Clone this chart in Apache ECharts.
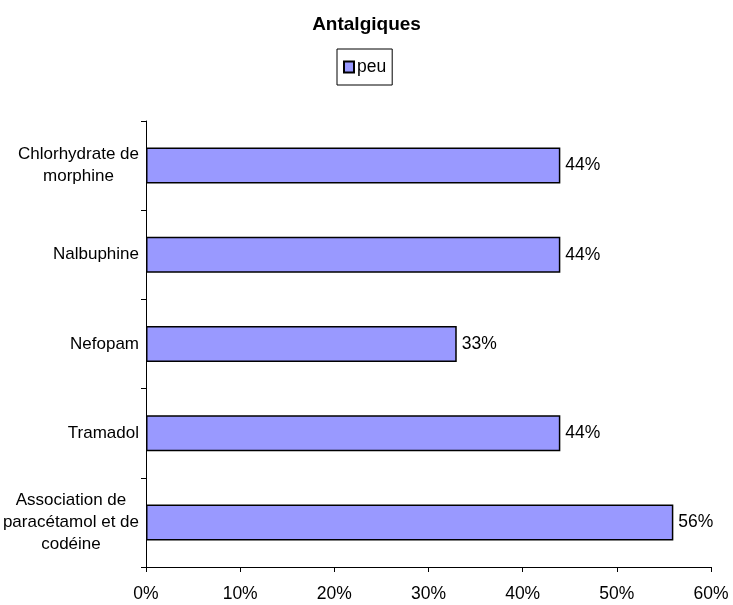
<!DOCTYPE html>
<html>
<head>
<meta charset="utf-8">
<script src="https://cdn.jsdelivr.net/npm/echarts@6/dist/echarts.min.js"></script>
<style>
  html, body { margin: 0; padding: 0; background: #fff; }
  #chart { width: 733px; height: 605px; }
</style>
</head>
<body>
<div id="chart"></div>
<script>
// bottom to top, as the axis draws them
const categories = [
  'Association de\nparacétamol et de\ncodéine',
  'Tramadol',
  'Nefopam',
  'Nalbuphine',
  'Chlorhydrate de\nmorphine'
];
const peuValues = [56, 44, 33, 44, 44];
const seriesName = 'peu';
const chartTitle = 'Antalgiques';

const chart = echarts.init(document.getElementById('chart'));
const font = 'Liberation Sans, Arial, sans-serif';

chart.setOption({
  animation: false,
  title: {
    text: chartTitle,
    left: 'center',
    top: 10,
    textStyle: { fontFamily: font, fontSize: 19, fontWeight: 'bold', color: '#000' }
  },
  legend: {
    data: [seriesName],
    left: 337,
    top: 49,
    padding: [9, 6, 9, 6],
    borderColor: '#000',
    borderWidth: 1,
    icon: 'rect',
    itemWidth: 10,
    itemHeight: 11,
    itemGap: 4,
    textStyle: { fontFamily: font, fontSize: 17.5, color: '#000', padding: [0, 0, 0, -2] }
  },
  grid: { left: 146, right: 22, top: 121, bottom: 38, containLabel: false, outerBoundsMode: 'none' },
  xAxis: {
    type: 'value',
    min: 0,
    max: 60,
    interval: 10,
    axisLine: { show: true, lineStyle: { color: '#000', width: 1 } },
    axisTick: { show: true, length: 5, lineStyle: { color: '#000' } },
    splitLine: { show: false },
    axisLabel: {
      margin: 18,
      formatter: '{value}%',
      fontFamily: font,
      fontSize: 17.5,
      color: '#000'
    }
  },
  yAxis: {
    type: 'category',
    data: categories,
    axisLine: { show: true, lineStyle: { color: '#000', width: 1 } },
    axisTick: { show: true, length: 5, lineStyle: { color: '#000' } },
    axisLabel: {
      margin: 7,
      align: 'right',
      lineHeight: 22,
      formatter: v => v.split('\n').map(l => '{c|' + l + '}').join('\n'),
      rich: {
        c: { align: 'center', fontFamily: font, fontSize: 17, lineHeight: 22, color: '#000' }
      }
    }
  },
  series: [{
    name: seriesName,
    type: 'bar',
    data: peuValues,
    barWidth: 36,
    itemStyle: { color: '#9999FF', borderColor: '#000', borderWidth: 1.5 },
    label: {
      show: true,
      position: 'right',
      distance: 5,
      formatter: '{c}%',
      fontFamily: font,
      fontSize: 17.5,
      color: '#000'
    }
  }]
});
</script>
</body>
</html>
